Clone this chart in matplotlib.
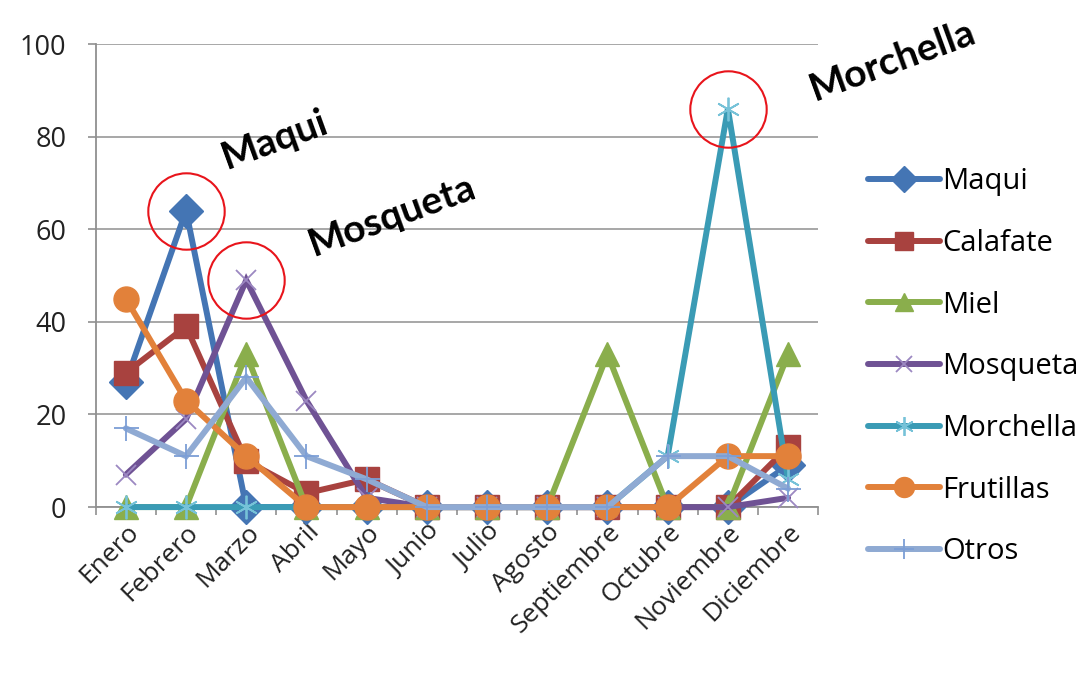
import matplotlib
matplotlib.use("Agg")
import matplotlib.pyplot as plt

plt.rcParams['font.family'] = ['Open Sans', 'DejaVu Sans']

months = ["Enero", "Febrero", "Marzo", "Abril", "Mayo", "Junio", "Julio",
          "Agosto", "Septiembre", "Octubre", "Noviembre", "Diciembre"]
maqui     = [27, 64, 0, 0, 0, 0, 0, 0, 0, 0, 0, 9]
calafate  = [29, 39, 10, 3, 6, 0, 0, 0, 0, 0, 0, 13]
miel      = [0, 0, 33, 0, 0, 0, 0, 0, 33, 0, 0, 33]
mosqueta  = [7, 19, 49, 23, 2, 0, 0, 0, 0, 0, 0, 2]
morchella = [0, 0, 0, 0, 0, 0, 0, 0, 0, 11, 86, 6]
frutillas = [45, 23, 11, 0, 0, 0, 0, 0, 0, 0, 11, 11]
otros     = [17, 11, 28, 11, 6, 0, 0, 0, 0, 11, 11, 4]
yticks = [0, 20, 40, 60, 80, 100]

series = [
    ("Maqui", maqui, '#4475B4', 'D', 17, '#4475B4', 1),
    ("Calafate", calafate, '#A8423F', 's', 17, '#A8423F', 1),
    ("Miel", miel, '#8AAE4C', '^', 17, '#8AAE4C', 1),
    ("Mosqueta", mosqueta, '#6F5294', 'x', 15, '#9C88C2', 1.3),
    ("Morchella", morchella, '#3A9BB5', (6, 2, 0), 17, '#76C2D8', 1.3),
    ("Frutillas", frutillas, '#E2813A', 'o', 18, '#E2813A', 1),
    ("Otros", otros, '#8FAAD3', '+', 18, '#7C9ED6', 1.3),
]

fig = plt.figure(figsize=(10.88, 6.77), dpi=100)
ax = fig.add_axes([0.088, 0.251, 0.664, 0.684])
x = list(range(len(months)))

handles = []
for name, vals, col, mk, ms, mcol, mew in series:
    h, = ax.plot(x, vals, color=col, lw=4.3, marker=mk, markersize=ms,
                 markerfacecolor=mcol, markeredgecolor=mcol, markeredgewidth=mew,
                 solid_joinstyle='miter', solid_capstyle='round', label=name,
                 zorder=3, clip_on=False)
    handles.append(h)

ax.set_xlim(-0.5, len(months) - 0.5)
ax.set_ylim(0, 100)
ax.set_yticks(yticks)
ax.set_yticklabels([str(v) for v in yticks], fontsize=19.5, color='#222222')
ax.yaxis.grid(True, color='#A0A0A0', lw=1.3)
ax.set_axisbelow(True)
ax.set_xticks(x)
ax.set_xticklabels(months, rotation=45, ha='right', rotation_mode='anchor',
                   fontsize=19, color='#222222')
ax.set_xticks([i - 0.5 for i in range(len(months) + 1)], minor=True)
ax.tick_params(axis='x', which='major', length=0, pad=9)
ax.tick_params(axis='x', which='minor', length=6, color='#909090', width=1.2)
ax.tick_params(axis='y', length=6, color='#909090', width=1.2, pad=15)
for s in ['top', 'right']:
    ax.spines[s].set_visible(False)
for s in ['left', 'bottom']:
    ax.spines[s].set_color('#909090')
    ax.spines[s].set_linewidth(1.3)

# Red circles around highlighted peaks
for idx, vals in [(1, maqui), (2, mosqueta), (10, morchella)]:
    ax.plot([idx], [vals[idx]], marker='o', markersize=55, markerfacecolor='none',
            markeredgecolor='#E8141B', markeredgewidth=1.5, zorder=5, clip_on=False)

# Bold rotated annotations
afont = ['Lato', 'DejaVu Sans']
fig.text(275 / 1088, 1 - 140 / 677, "Maqui", fontsize=28, fontweight='bold',
         fontstyle='normal', rotation=20, ha='center', va='center', family=afont)
fig.text(392 / 1088, 1 - 216 / 677, "Mosqueta", fontsize=28, fontweight='bold',
         fontstyle='normal', rotation=20, ha='center', va='center', family=afont)
fig.text(893 / 1088, 1 - 60 / 677, "Morchella", fontsize=28, fontweight='bold',
         fontstyle='normal', rotation=20, ha='center', va='center', family=afont)

leg = fig.legend(handles=handles, loc='upper left', bbox_to_anchor=(0.798, 0.753),
                 frameon=False, fontsize=21, handlelength=2.45, handletextpad=0.08,
                 labelspacing=1.12, markerscale=0.8, borderaxespad=0, borderpad=0)

fig.savefig("out.png", dpi=100, facecolor='white')
